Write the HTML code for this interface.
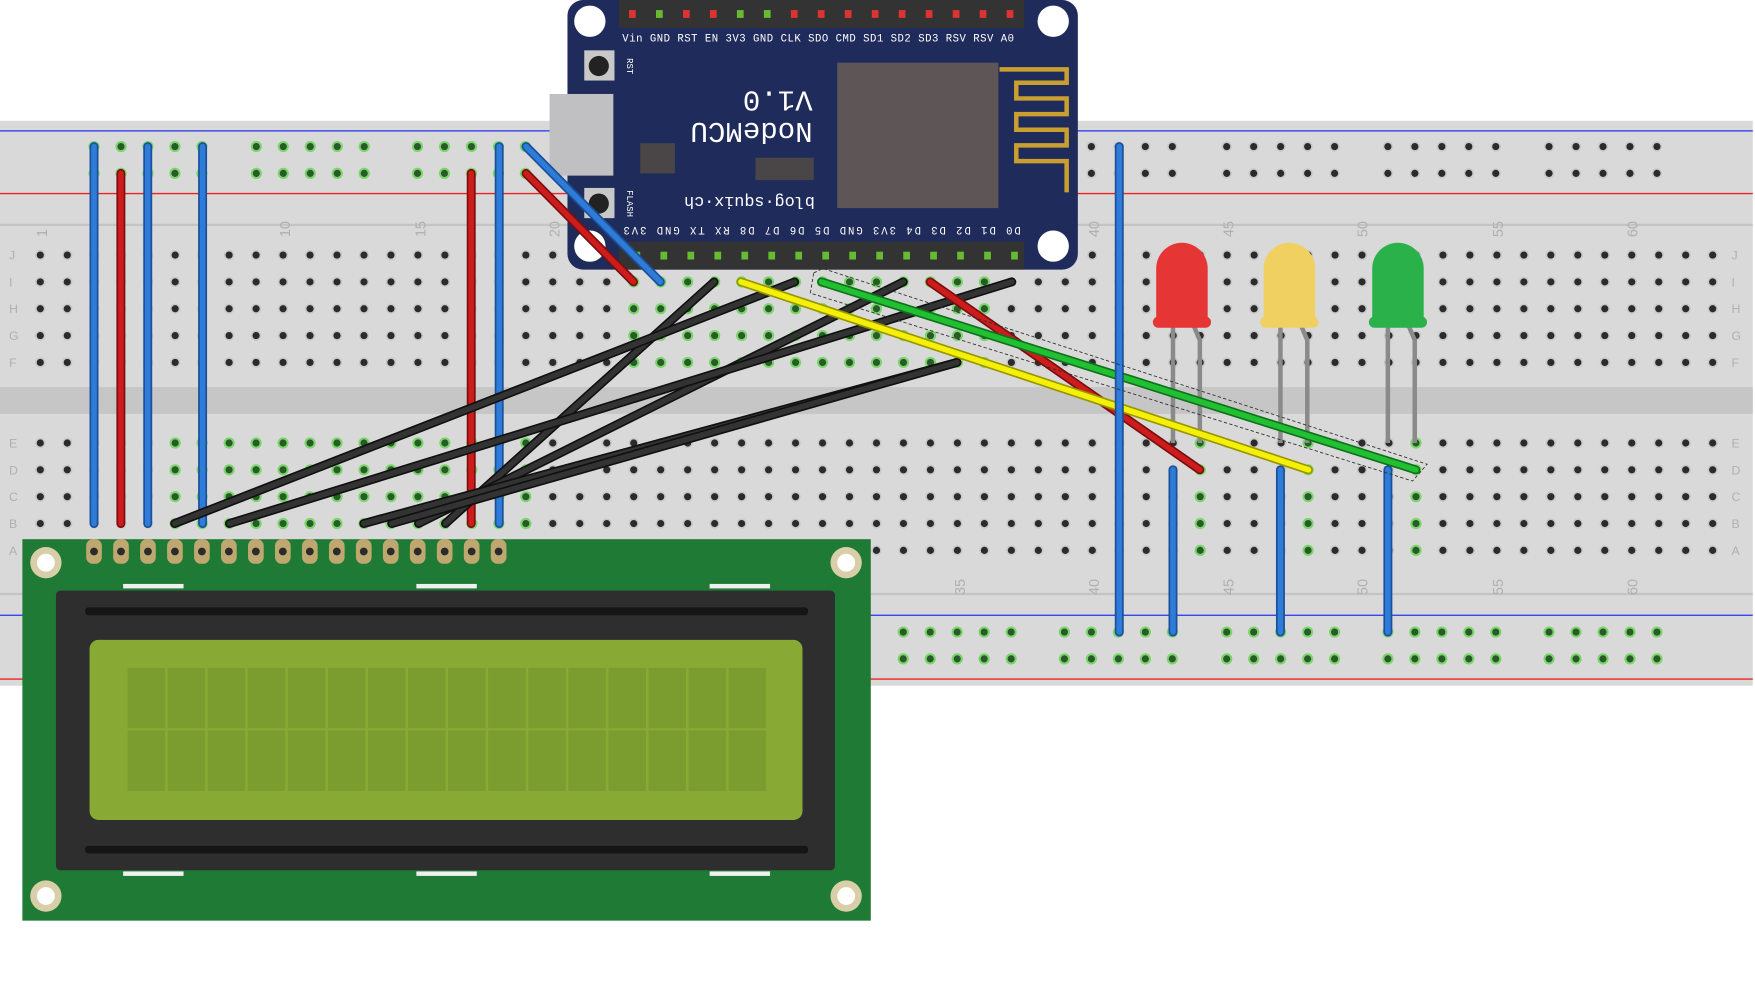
<!DOCTYPE html>
<html><head><meta charset="utf-8"><style>html,body{margin:0;padding:0;background:#fff;overflow:hidden}svg{display:block}</style></head><body>
<svg width="1755" height="990" viewBox="0 0 1568 885" preserveAspectRatio="none" xmlns="http://www.w3.org/2000/svg" font-family="Liberation Mono, monospace">
<defs>
<g id="h"><circle r="4.6" fill="#c8c8c8"/><circle r="3.2" fill="#2b2b2b"/></g>
<g id="hg"><circle r="5" fill="#7ad66a"/><circle r="3.2" fill="#2a5a2a"/></g>
</defs>
<rect x="0" y="108" width="1566" height="505" fill="#d9d9d9"/>
<rect x="0" y="200" width="1566" height="2" fill="#c4c4c4"/>
<rect x="0" y="346" width="1566" height="24" fill="#c6c6c6"/>
<rect x="0" y="530" width="1566" height="2" fill="#c4c4c4"/>
<line x1="0" y1="117" x2="1566" y2="117" stroke="#2233ee" stroke-width="1.2"/>
<line x1="0" y1="173" x2="1566" y2="173" stroke="#ee2222" stroke-width="1.2"/>
<line x1="0" y1="550" x2="1566" y2="550" stroke="#2233ee" stroke-width="1.2"/>
<line x1="0" y1="607" x2="1566" y2="607" stroke="#ee2222" stroke-width="1.2"/>
<g id="holes"></g>
<g font-family="Liberation Sans, sans-serif" font-size="13" fill="#b0b0b0">
<text transform="translate(42,212) rotate(-90)">1</text>
<text transform="translate(259,212) rotate(-90)">10</text>
<text transform="translate(380,212) rotate(-90)">15</text>
<text transform="translate(500,212) rotate(-90)">20</text>
<text transform="translate(982,212) rotate(-90)">40</text>
<text transform="translate(1102,212) rotate(-90)">45</text>
<text transform="translate(1222,212) rotate(-90)">50</text>
<text transform="translate(1343,212) rotate(-90)">55</text>
<text transform="translate(1463,212) rotate(-90)">60</text>
<text transform="translate(862,532) rotate(-90)">35</text>
<text transform="translate(982,532) rotate(-90)">40</text>
<text transform="translate(1102,532) rotate(-90)">45</text>
<text transform="translate(1222,532) rotate(-90)">50</text>
<text transform="translate(1343,532) rotate(-90)">55</text>
<text transform="translate(1463,532) rotate(-90)">60</text>
</g>
<!-- NodeMCU -->
<rect x="507" y="0" width="456" height="241" rx="14" fill="#1f2b5b"/>
<rect x="491" y="84" width="57" height="73" fill="#c0c0c2"/>
<circle cx="527" cy="19" r="14" fill="#fff"/><circle cx="941" cy="19" r="14" fill="#fff"/>
<circle cx="527" cy="220" r="14" fill="#fff"/><circle cx="941" cy="220" r="14" fill="#fff"/>
<rect x="553" y="0" width="362" height="25" fill="#333"/>
<rect x="553" y="216" width="362" height="25" fill="#333"/>
<rect x="748" y="56" width="144" height="130" fill="#5e5557"/>
<path d="M893 62h60v12h-45v14h45v14h-45v14h45v14h-45v14h45v28" fill="none" stroke="#c9a030" stroke-width="4"/>
<rect x="572" y="128" width="31" height="27" fill="#4a4647"/>
<rect x="675" y="141" width="52" height="20" fill="#4a4647"/>
<rect x="522" y="45" width="27" height="27" fill="#c8c8c8"/><circle cx="535" cy="59" r="9" fill="#222"/>
<rect x="522" y="168" width="27" height="27" fill="#c8c8c8"/><circle cx="535" cy="182" r="9" fill="#222"/>
<g fill="#fff" font-size="9.5">
<text x="556" y="37" textLength="350">Vin GND RST  EN 3V3 GND CLK SDO CMD SD1 SD2 SD3 RSV RSV  A0</text>
<text transform="translate(560,52) rotate(90)" font-size="8">RST</text>
<text transform="translate(560,170) rotate(90)" font-size="8">FLASH</text>
<g transform="rotate(180 668 140)">
<text x="610" y="198" font-size="26">V1.0</text>
<text x="610" y="170" font-size="26">NodeMCU</text>
<text x="608" y="104" font-size="15">blog·squix·ch</text>
</g>
<text transform="rotate(180 735 208)" x="558" y="213" textLength="355">D0  D1  D2  D3  D4  3V3 GND D5  D6  D7  D8  RX  TX  GND 3V3</text>
</g>
<g id="pins"></g>
<!-- LCD -->
<rect x="20" y="482" width="758" height="341" fill="#1e7a34"/>
<g fill="#f0f0f0"><rect x="110" y="522" width="54" height="4"/><rect x="372" y="522" width="54" height="4"/><rect x="634" y="522" width="54" height="4"/>
<rect x="110" y="779" width="54" height="4"/><rect x="372" y="779" width="54" height="4"/><rect x="634" y="779" width="54" height="4"/></g>
<rect x="50" y="528" width="696" height="250" rx="4" fill="#2e2e2e"/>
<rect x="76" y="543" width="646" height="7" rx="3" fill="#151515"/>
<rect x="76" y="756" width="646" height="7" rx="3" fill="#151515"/>
<rect x="80" y="572" width="637" height="161" rx="8" fill="#88aa34"/>
<g id="cells" fill="#7b9c2e"></g>
<g fill="#d8cfa8"><circle cx="41" cy="503" r="14"/><circle cx="756" cy="503" r="14"/><circle cx="41" cy="801" r="14"/><circle cx="756" cy="801" r="14"/></g>
<g fill="#fff"><circle cx="41" cy="503" r="8"/><circle cx="756" cy="503" r="8"/><circle cx="41" cy="801" r="8"/><circle cx="756" cy="801" r="8"/></g>
<g id="lcdpins"></g>
<!-- LEDs -->
<g stroke="#8a8a8a" stroke-width="4" fill="none">
<path d="M1048 290V396M1066 290l6 14V396"/><path d="M1144 290V396M1162 290l6 14V396"/><path d="M1240 290V396M1258 290l6 14V396"/>
</g>
<path d="M1033 290V240a23 23 0 0 1 46 0V290z" fill="#e53535"/><rect x="1030" y="283" width="52" height="10" rx="5" fill="#e53535"/>
<path d="M1129 290V240a23 23 0 0 1 46 0V290z" fill="#f0d060"/><rect x="1126" y="283" width="52" height="10" rx="5" fill="#f0d060"/>
<path d="M1226 290V240a23 23 0 0 1 46 0V290z" fill="#2bb14a"/><rect x="1223" y="283" width="52" height="10" rx="5" fill="#2bb14a"/>
<!-- wires -->
<g id="wires" stroke-linecap="round"></g>
<path d="M727 244 L735 240 L1275 415 L1262 430 L724 262 Z" fill="none" stroke="#333" stroke-dasharray="3 2" stroke-width="0.8"/>
<script>
(function(){
var NS="http://www.w3.org/2000/svg";
function el(p,t,a){var e=document.createElementNS(NS,t);for(var k in a)e.setAttribute(k,a[k]);p.appendChild(e);return e;}
var holes=document.getElementById('holes');
function cx(c){return 36+(c-1)*24.1;}
var rowsMain=[228,252,276,300,324,396,420,444,468,492];
var greenTop={23:1,24:1,25:1,26:1,27:1,28:1,29:1,30:1,31:1,32:1,33:1,34:1,35:1,36:1};
var greenBot={6:1,7:1,8:1,9:1,10:1,11:1,12:1,13:1,14:1,15:1,16:1,17:1,18:1,19:1,44:1,48:1,52:1};
rowsMain.forEach(function(y,ri){for(var c=1;c<=63;c++){var g=(ri<5?greenTop[c]:greenBot[c]);el(holes,'use',{href:g?'#hg':'#h',x:cx(c),y:y});}});
var groups=[84,229,373,518,662,807,951,1096,1240,1384];
[131,155,565,589].forEach(function(y){groups.forEach(function(g){for(var i=0;i<5;i++)el(holes,'use',{href:((y<200&&g<500)||(y>500&&g>800))?'#hg':'#h',x:g+i*24.1,y:y});});});
var letters=['J','I','H','G','F','E','D','C','B','A'];
letters.forEach(function(l,i){el(holes,'text',{x:8,y:rowsMain[i]+4,'font-size':11,fill:'#b0b0b0','font-family':'Liberation Sans'}).textContent=l;el(holes,'text',{x:1547,y:rowsMain[i]+4,'font-size':11,fill:'#b0b0b0','font-family':'Liberation Sans'}).textContent=l;});
var pins=document.getElementById('pins');
var pc=['#d33','#6b3','#d33','#d33','#6b3','#6b3','#d33','#d33','#d33','#d33','#d33','#d33','#d33','#d33','#d33'];
for(var i=0;i<15;i++){el(pins,'rect',{x:562+i*24.1,y:9,width:6,height:7,fill:pc[i]});el(pins,'rect',{x:566+i*24.1,y:225,width:6,height:7,fill:'#6b3'});}
var cells=document.getElementById('cells');
for(var r=0;r<2;r++)for(var c=0;c<16;c++)el(cells,'rect',{x:114+c*35.8,y:597+r*56,width:33.5,height:54});
var lp=document.getElementById('lcdpins');
for(var i2=0;i2<16;i2++){var x=84+i2*24.1;el(lp,'rect',{x:x-7,y:482,width:14,height:22,rx:6,fill:'#bfa870'});el(lp,'circle',{cx:x,cy:493,r:3.5,fill:'#2b2b2b'});}
var w=document.getElementById('wires');
function wire(x1,y1,x2,y2,c,d){el(w,'line',{x1:x1,y1:y1,x2:x2,y2:y2,stroke:d,'stroke-width':8});el(w,'line',{x1:x1,y1:y1,x2:x2,y2:y2,stroke:c,'stroke-width':5});}
var B=['#2f7bd8','#1a4f99'],R=['#cc1c1c','#7a0f0f'],K=['#333','#111'],Y=['#f4f00a','#999600'],G=['#20c030','#127020'];
var L=[[84,131,84,468,B],[108,155,108,468,R],[132,131,132,468,B],[181,131,181,468,B],[421,155,421,468,R],[446,131,446,468,B],
[470,155,566,252,R],[470,131,590,252,B],
[638,252,398,468,K],[710,252,156,468,K],[807,252,374,468,K],[904,252,205,468,K],[855,324,325,468,K],[855,324,350,468,K],
[831,252,1072,420,R],[662,252,1169,420,Y],[734,252,1265,420,G],
[1000,131,1000,565,B],[1048,420,1048,565,B],[1144,420,1144,565,B],[1240,420,1240,565,B]];
L.forEach(function(a){wire(a[0],a[1],a[2],a[3],a[4][0],a[4][1]);});
})();
</script>
</svg>
</body></html>
